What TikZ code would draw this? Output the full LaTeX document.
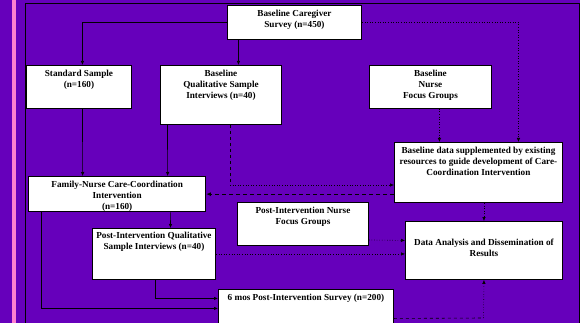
\documentclass[tikz,border=0pt]{standalone}
\usepackage{fontspec}
\setmainfont{Liberation Serif}
\usepackage{tikz}
\usetikzlibrary{arrows.meta}
\usetikzlibrary{calc}

\definecolor{bgpurple}{RGB}{102,0,187}
\definecolor{stripe}{RGB}{255,128,208}

\begin{document}
\begin{tikzpicture}[x=1pt, y=-1pt,
    box/.style={draw=black, line width=0.9pt, fill=white, anchor=north west, inner sep=0pt},
    txt/.style={anchor=north, align=center, inner sep=2pt, yshift=-2.5pt,
      font=\fontsize{9.2}{11}\selectfont\bfseries},
    link/.style={line width=0.6pt, -{Latex[length=4pt,width=3.5pt]}},
    dotlink/.style={line width=0.6pt, dotted, -{Latex[length=4pt,width=3.5pt]}},
    dashlink/.style={line width=0.6pt, dashed},
    bigdash/.style={line width=1pt, dash pattern=on 4pt off 3pt, -{Latex[length=4.5pt,width=4pt]}}]
  \useasboundingbox (0,0) rectangle (580,323);
  \fill[bgpurple] (0,0) rectangle (580,323);
  \fill[stripe] (12,0) rectangle (15.5,323);
  \draw[line width=1pt] (25,323) -- (25,4) -- (579,4) -- (579,323);

  % boxes
  \node[box, minimum width=134pt, minimum height=34pt,
    label={[txt]north:{Baseline Caregiver\\Survey (n=450)}}] (survey) at (227,5) {};
  \node[box, minimum width=105pt, minimum height=43pt,
    label={[txt]north:{Standard Sample\\(n=160)}}] (std) at (26,65) {};
  \node[box, minimum width=121pt, minimum height=59pt,
    label={[txt]north:{Baseline\\Qualitative Sample\\Interviews (n=40)}}] (bqual) at (160,65) {};
  \node[box, minimum width=122pt, minimum height=43pt,
    label={[txt]north:{Baseline\\Nurse\\Focus Groups}}] (bnurse) at (369,65) {};
  \node[box, minimum width=168pt, minimum height=60pt,
    label={[txt]north:{Baseline data supplemented by existing\\resources to guide development of Care-\\Coordination Intervention}}] (bdata) at (394,142) {};
  \node[box, line width=1.3pt, minimum width=177pt, minimum height=35pt,
    label={[txt]north:{Family-Nurse Care-Coordination\\Intervention\\(n=160)}}] (family) at (28,176) {};
  \node[box, minimum width=131pt, minimum height=43pt,
    label={[txt]north:{Post-Intervention Nurse\\Focus Groups}}] (pnurse) at (237,202) {};
  \node[box, minimum width=123pt, minimum height=51pt,
    label={[txt, yshift=1pt]north:{Post-Intervention Qualitative\\Sample Interviews (n=40)}}] (pqual) at (92,228) {};
  \node[box, minimum width=157pt, minimum height=58pt,
    label={[txt, yshift=-13pt]north:{Data Analysis and Dissemination of\\Results}}] (analysis) at (405,221) {};
  \node[box, minimum width=175pt, minimum height=34pt,
    label={[txt]north:{6 mos Post-Intervention Survey (n=200)}}] (survey6) at (218,289) {};

  % bend points
  \coordinate (qbend) at (230,185);
  \coordinate (abend) at (483.5,318);

  % connectors
  \draw[link] (survey.west) -| ([xshift=3.5pt]std.north);
  \draw[link] ([xshift=-56pt]survey.south) -- ([xshift=17.5pt]bqual.north);
  \draw[dotlink] (survey.east) -| ([xshift=40pt]bdata.north);
  \draw[dotlink] ([xshift=9pt]bnurse.south) -- ([xshift=-39pt]bdata.north);
  \draw[link] ([xshift=3.5pt]std.south) -- ([xshift=-34.5pt]family.north);
  \draw[link] ([xshift=-53.5pt]bqual.south) -- ([xshift=50.5pt]family.north);
  \draw[dashlink] (qbend |- bqual.south) -- (qbend);
  \draw[dotlink] (qbend) -- (qbend -| bdata.west);
  \draw[bigdash] (family.east -| bdata.west) -- (family.east);
  \draw[link] ([xshift=53.5pt]family.south) -- ([xshift=16.5pt]pqual.north);
  \draw[link] ([xshift=-75.5pt]family.south) |- ([yshift=-2pt]survey6.west);
  \draw[link] ([xshift=1.5pt]pqual.south) |- ([yshift=8pt]survey6.west);
  \draw[dotlink] (pqual.east) -- (pqual.east -| analysis.west);
  \draw[dotlink] ([yshift=-16pt]pnurse.east) -- ([yshift=10pt]analysis.west);
  \draw[dotlink] (analysis.north |- bdata.south) -- (analysis.north);
  \draw[dashlink] ([yshift=-12pt]survey6.east) -- (abend);
  \draw[dotlink] (abend) -- (analysis.south);
\end{tikzpicture}
\end{document}
